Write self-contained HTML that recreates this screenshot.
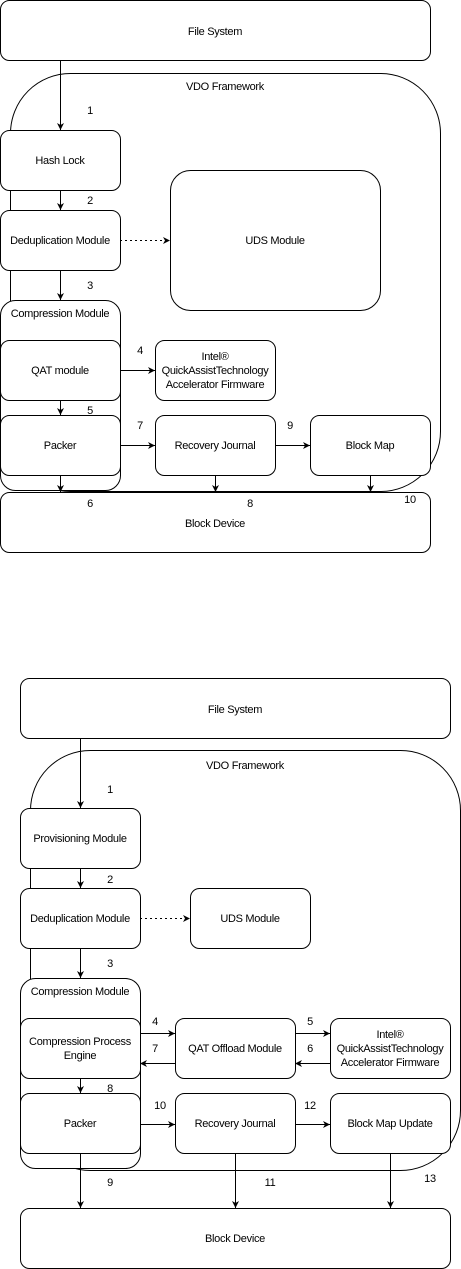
<!DOCTYPE html>
<html><head><meta charset="utf-8"><style>
html,body{margin:0;padding:0;background:#fff;}
svg{display:block;}
text{font-family:"Liberation Sans",sans-serif;font-size:11px;fill:#000;letter-spacing:-0.3px;}
</style></head><body>
<svg width="461" height="1269" viewBox="0 0 461 1269" xmlns="http://www.w3.org/2000/svg">
<defs><marker id="a" markerWidth="8" markerHeight="8" refX="7" refY="4" orient="auto" markerUnits="userSpaceOnUse"><path d="M0,0.5 L7,4 L0,7.5 L2,4 Z" fill="#000"/></marker></defs>
<g fill="#fff" stroke="#000" stroke-width="1">
<!-- TOP -->
<rect x="0.5" y="0.5" width="430" height="60" rx="9"/>
<rect x="10.5" y="73.5" width="430" height="418" rx="60"/>
<rect x="0.5" y="130.5" width="120" height="60" rx="9"/>
<rect x="0.5" y="210.5" width="120" height="60" rx="9"/>
<rect x="170.5" y="170.5" width="210" height="140" rx="20"/>
<rect x="0.5" y="300.5" width="120" height="190" rx="15"/>
<rect x="0.5" y="340.5" width="120" height="60" rx="9"/>
<rect x="155.5" y="340.5" width="120" height="60" rx="9"/>
<rect x="0.5" y="415.5" width="120" height="60" rx="9"/>
<rect x="155.5" y="415.5" width="120" height="60" rx="9"/>
<rect x="310.5" y="415.5" width="120" height="60" rx="9"/>
<rect x="0.5" y="492.5" width="430" height="60" rx="9"/>
<!-- BOTTOM -->
<rect x="20.5" y="678.5" width="430" height="60" rx="9"/>
<rect x="30.5" y="750.5" width="430" height="420" rx="60"/>
<rect x="20.5" y="808.5" width="120" height="60" rx="9"/>
<rect x="20.5" y="888.5" width="120" height="60" rx="9"/>
<rect x="190.5" y="888.5" width="120" height="60" rx="9"/>
<rect x="20.5" y="978.5" width="120" height="190" rx="15"/>
<rect x="20.5" y="1018.5" width="120" height="60" rx="9"/>
<rect x="175.5" y="1018.5" width="120" height="60" rx="9"/>
<rect x="330.5" y="1018.5" width="120" height="60" rx="9"/>
<rect x="20.5" y="1093.5" width="120" height="60" rx="9"/>
<rect x="175.5" y="1093.5" width="120" height="60" rx="9"/>
<rect x="330.5" y="1093.5" width="120" height="60" rx="9"/>
<rect x="20.5" y="1208.5" width="430" height="60" rx="9"/>
</g>
<g stroke="#000" stroke-width="1" fill="none" marker-end="url(#a)">
<path d="M60.5 60 V130"/><path d="M60.5 190 V210"/><path d="M60.5 270 V300"/>
<path d="M120 240.5 H170" stroke-dasharray="2,3"/>
<path d="M120 370.5 H155"/><path d="M60.5 400 V415"/>
<path d="M120 445.5 H155"/><path d="M275 445.5 H310"/>
<path d="M60.5 475 V492"/><path d="M215.5 475 V492"/><path d="M370.5 475 V492"/>
<path d="M80.5 738 V808"/><path d="M80.5 868 V888"/><path d="M80.5 948 V978"/>
<path d="M140 918.5 H190" stroke-dasharray="2,3"/>
<path d="M140 1033.5 H175"/><path d="M175 1063.5 H140"/>
<path d="M295 1033.5 H330"/><path d="M330 1063.5 H295"/>
<path d="M80.5 1078 V1093"/>
<path d="M140 1124.5 H175"/><path d="M295 1124.5 H330"/>
<path d="M80.5 1153 V1208"/><path d="M235.5 1153 V1208"/><path d="M390.5 1153 V1208"/>
</g>
<g text-anchor="middle">
<text x="215" y="35">File System</text>
<text x="225" y="90">VDO Framework</text>
<text x="60" y="164">Hash Lock</text>
<text x="60" y="244">Deduplication Module</text>
<text x="275" y="244">UDS Module</text>
<text x="60" y="317">Compression Module</text>
<text x="60" y="374">QAT module</text>
<text x="215" y="360">Intel®</text>
<text x="215" y="374">QuickAssistTechnology</text>
<text x="215" y="388">Accelerator Firmware</text>
<text x="60" y="449">Packer</text>
<text x="215" y="449">Recovery Journal</text>
<text x="370" y="449">Block Map</text>
<text x="215" y="527">Block Device</text>
<text x="90" y="114">1</text><text x="90" y="204">2</text><text x="90" y="289">3</text>
<text x="140" y="354">4</text><text x="90" y="414">5</text><text x="140" y="429">7</text>
<text x="290" y="429">9</text><text x="90" y="507">6</text><text x="250" y="507">8</text><text x="410" y="503">10</text>

<text x="235" y="713">File System</text>
<text x="245" y="769">VDO Framework</text>
<text x="80" y="842">Provisioning Module</text>
<text x="80" y="922">Deduplication Module</text>
<text x="250" y="922">UDS Module</text>
<text x="80" y="995">Compression Module</text>
<text x="80" y="1045">Compression Process</text>
<text x="80" y="1059">Engine</text>
<text x="235" y="1052">QAT Offload Module</text>
<text x="390" y="1038">Intel®</text>
<text x="390" y="1052">QuickAssistTechnology</text>
<text x="390" y="1066">Accelerator Firmware</text>
<text x="80" y="1127">Packer</text>
<text x="235" y="1127">Recovery Journal</text>
<text x="390" y="1127">Block Map Update</text>
<text x="235" y="1242">Block Device</text>
<text x="110" y="793">1</text><text x="110" y="883">2</text><text x="110" y="967">3</text>
<text x="155" y="1025">4</text><text x="155" y="1052">7</text>
<text x="310" y="1025">5</text><text x="310" y="1052">6</text>
<text x="110" y="1092">8</text><text x="160" y="1109">10</text><text x="310" y="1109">12</text>
<text x="110" y="1186">9</text><text x="270" y="1186">11</text><text x="430" y="1182">13</text>
</g>
</svg>
</body></html>
